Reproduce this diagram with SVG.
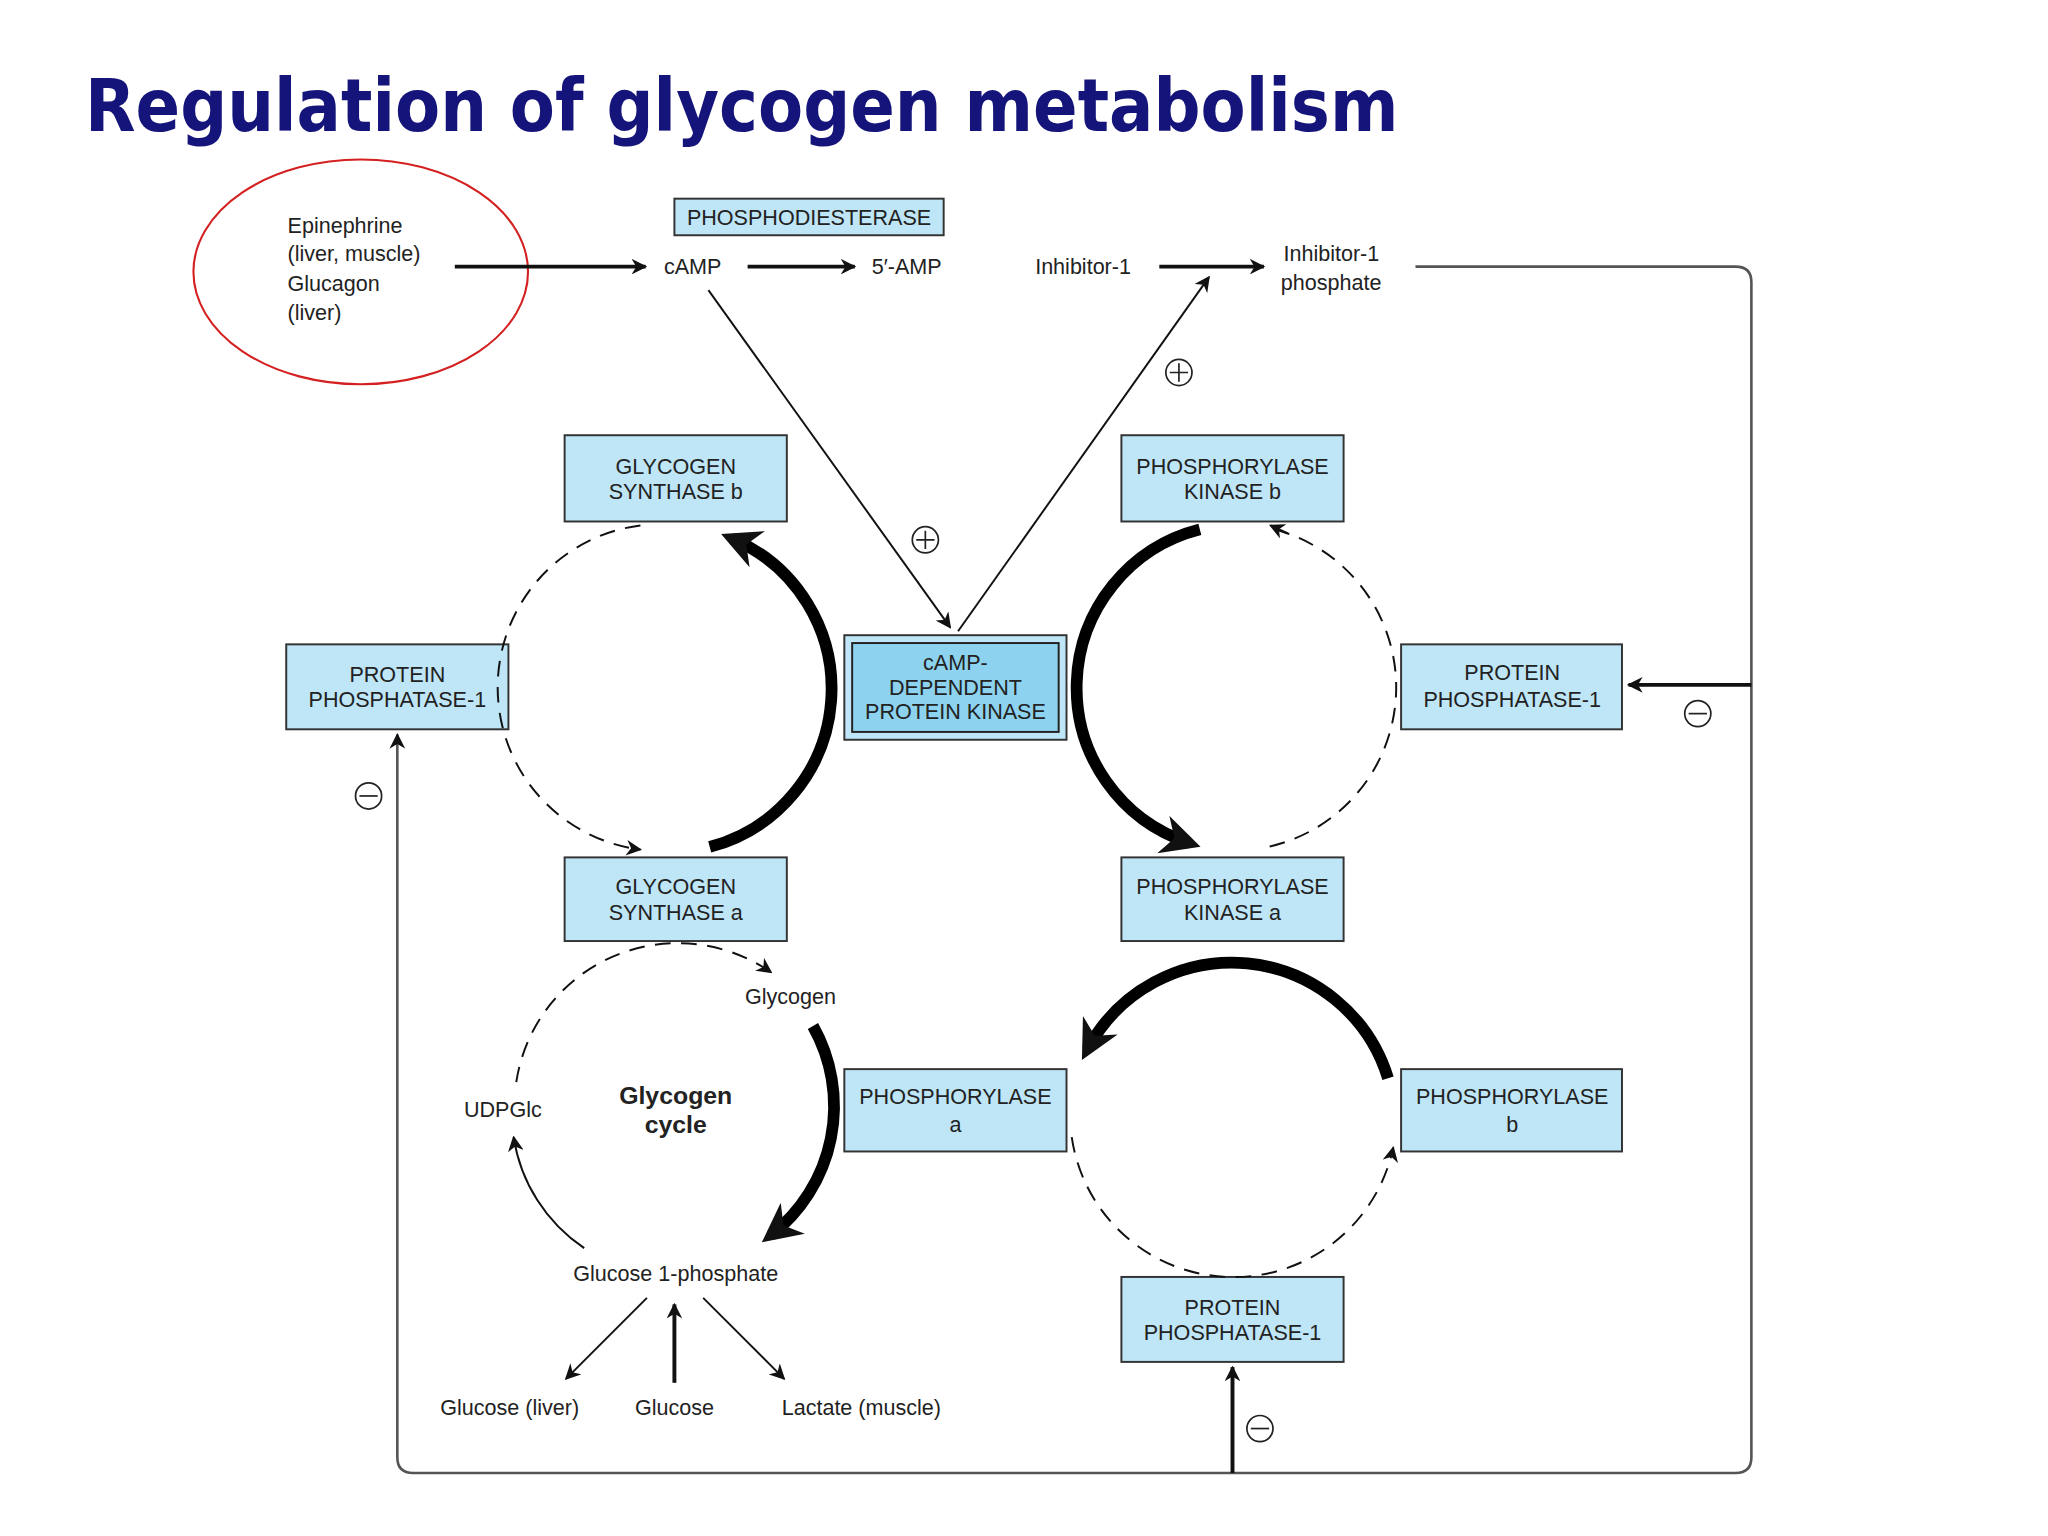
<svg xmlns="http://www.w3.org/2000/svg" width="2048" height="1536" viewBox="0 0 2048 1536">
<defs>
<marker id="ah" viewBox="0 0 10 10" refX="9" refY="5" markerWidth="12" markerHeight="12" markerUnits="userSpaceOnUse" orient="auto"><path d="M0,0 L10,5 L0,10 L3,5 z" fill="#111"/></marker>
<marker id="ahb" viewBox="0 0 10 10" refX="7" refY="5" markerWidth="30" markerHeight="30" markerUnits="userSpaceOnUse" orient="auto"><path d="M0,0 L10,5 L0,10 L3,5 z" fill="#111"/></marker>
</defs>
<style>
text{font-family:"Liberation Sans",Arial,sans-serif;font-size:16.5px;fill:#222}
.box{fill:#bfe6f7;stroke:#333;stroke-width:1.5}
.c{text-anchor:middle}
.thin{fill:none;stroke:#111;stroke-width:1.5}
.thick{fill:none;stroke:#000;stroke-width:9}
.dash{fill:none;stroke:#111;stroke-width:1.5;stroke-dasharray:12 8}
.sym{fill:none;stroke:#222;stroke-width:1.3}
</style>
<rect width="2048" height="1536" fill="#fff"/>
<g transform="scale(1.307)">
<text x="65" y="100" style="font-family:'DejaVu Sans',sans-serif;font-size:56px;font-weight:bold;fill:#14147a" textLength="1005" lengthAdjust="spacingAndGlyphs">Regulation of glycogen metabolism</text>
<g id="hormones">
<ellipse cx="276" cy="208" rx="128" ry="86" fill="none" stroke="#d42020" stroke-width="1.6"/>
<text x="220" y="178">Epinephrine</text><text x="220" y="200">(liver, muscle)</text><text x="220" y="223">Glucagon</text><text x="220" y="245">(liver)</text>
</g>
<g id="pde"><rect class="box" x="516" y="152" width="206" height="28"/><text class="c" x="619" y="172">PHOSPHODIESTERASE</text></g>
<g id="labels">
<text x="508" y="210">cAMP</text><text x="667" y="210">5′-AMP</text><text x="792" y="210">Inhibitor-1</text>
<text x="982" y="200">Inhibitor-1</text><text x="980" y="222">phosphate</text>
<text x="570" y="768">Glycogen</text><text x="355" y="855">UDPGlc</text>
<text class="c" x="517" y="845" style="font-weight:bold;font-size:19px">Glycogen</text>
<text class="c" x="517" y="867" style="font-weight:bold;font-size:19px">cycle</text>
<text class="c" x="517" y="980">Glucose 1-phosphate</text>
<text class="c" x="390" y="1083">Glucose (liver)</text><text class="c" x="516" y="1083">Glucose</text><text class="c" x="659" y="1083">Lactate (muscle)</text>
</g>
<g id="gsb"><rect class="box" x="432" y="333" width="170" height="66"/><text class="c" x="517" y="363">GLYCOGEN</text><text class="c" x="517" y="382">SYNTHASE b</text></g>
<g id="pkb"><rect class="box" x="858" y="333" width="170" height="66"/><text class="c" x="943" y="363">PHOSPHORYLASE</text><text class="c" x="943" y="382">KINASE b</text></g>
<g id="pp1l"><rect class="box" x="219" y="493" width="170" height="65"/><text class="c" x="304" y="522">PROTEIN</text><text class="c" x="304" y="541">PHOSPHATASE-1</text></g>
<g id="pka"><rect class="box" x="646" y="486" width="170" height="80"/><rect x="652" y="492" width="158" height="68" fill="#8dd3ef" stroke="#222" stroke-width="1.5"/><text class="c" x="731" y="513">cAMP-</text><text class="c" x="731" y="532">DEPENDENT</text><text class="c" x="731" y="550">PROTEIN KINASE</text></g>
<g id="pp1r"><rect class="box" x="1072" y="493" width="169" height="65"/><text class="c" x="1157" y="520">PROTEIN</text><text class="c" x="1157" y="541">PHOSPHATASE-1</text></g>
<g id="gsa"><rect class="box" x="432" y="656" width="170" height="64"/><text class="c" x="517" y="684">GLYCOGEN</text><text class="c" x="517" y="704">SYNTHASE a</text></g>
<g id="pka2"><rect class="box" x="858" y="656" width="170" height="64"/><text class="c" x="943" y="684">PHOSPHORYLASE</text><text class="c" x="943" y="704">KINASE a</text></g>
<g id="pha"><rect class="box" x="646" y="818" width="170" height="63"/><text class="c" x="731" y="845">PHOSPHORYLASE</text><text class="c" x="731" y="866">a</text></g>
<g id="phb"><rect class="box" x="1072" y="818" width="169" height="63"/><text class="c" x="1157" y="845">PHOSPHORYLASE</text><text class="c" x="1157" y="866">b</text></g>
<g id="pp1b"><rect class="box" x="858" y="977" width="170" height="65"/><text class="c" x="943" y="1006">PROTEIN</text><text class="c" x="943" y="1025">PHOSPHATASE-1</text></g>
<g id="connectors">
<line x1="348" y1="204" x2="494" y2="204" stroke="#111" stroke-width="3" marker-end="url(#ah)"/>
<line x1="572" y1="204" x2="654" y2="204" stroke="#111" stroke-width="3" marker-end="url(#ah)"/>
<line x1="887" y1="204" x2="967" y2="204" stroke="#111" stroke-width="3" marker-end="url(#ah)"/>
<line class="thin" x1="542" y1="222" x2="727" y2="480" marker-end="url(#ah)"/>
<line class="thin" x1="733" y1="483" x2="925" y2="212" marker-end="url(#ah)"/>
<path d="M1083,204 H1328 Q1340,204 1340,216 V1115 Q1340,1127 1328,1127 H316 Q304,1127 304,1115 V562" fill="none" stroke="#555" stroke-width="2" marker-end="url(#ah)"/>
<line x1="1340" y1="524" x2="1246" y2="524" stroke="#111" stroke-width="3" marker-end="url(#ah)"/>
<line x1="943" y1="1127" x2="943" y2="1046" stroke="#111" stroke-width="3" marker-end="url(#ah)"/>
<path class="thick" d="M543,648 A125,125 0 0 0 560,412" marker-end="url(#ahb)"/>
<path class="dash" d="M490,402 A125,125 0 0 0 490,650" marker-end="url(#ah)"/>
<path class="thick" d="M918,405 A125,125 0 0 0 910,645" marker-end="url(#ahb)"/>
<path class="dash" d="M975,405 A125,125 0 0 1 970,648"/>
<line class="thin" x1="985" y1="408" x2="972" y2="402" marker-end="url(#ah)"/>
<path class="dash" d="M395,828 A125,125 0 0 1 590,744" marker-end="url(#ah)"/>
<path class="thick" d="M622,785 A125,125 0 0 1 590,945" marker-end="url(#ahb)"/>
<path class="thin" d="M447,955 A125,125 0 0 1 393,870" marker-end="url(#ah)"/>
<path class="thick" d="M1062,825 A125,125 0 0 0 832,803" marker-end="url(#ahb)"/>
<path class="dash" d="M820,870 A125,125 0 0 0 1066,878" marker-end="url(#ah)"/>
<line class="thin" x1="495" y1="993" x2="433" y2="1055" marker-end="url(#ah)"/>
<line x1="516" y1="1058" x2="516" y2="998" stroke="#111" stroke-width="3" marker-end="url(#ah)"/>
<line class="thin" x1="538" y1="993" x2="600" y2="1055" marker-end="url(#ah)"/>
</g>
<g id="signs">
<circle class="sym" cx="708" cy="413" r="10"/><path class="sym" d="M701,413 H715 M708,406 V420"/>
<circle class="sym" cx="902" cy="285" r="10"/><path class="sym" d="M895,285 H909 M902,278 V292"/>
<circle class="sym" cx="282" cy="609" r="10"/><path class="sym" d="M275,609 H289"/>
<circle class="sym" cx="1299" cy="546" r="10"/><path class="sym" d="M1292,546 H1306"/>
<circle class="sym" cx="964" cy="1093" r="10"/><path class="sym" d="M957,1093 H971"/>
</g>
</g>
</svg>
